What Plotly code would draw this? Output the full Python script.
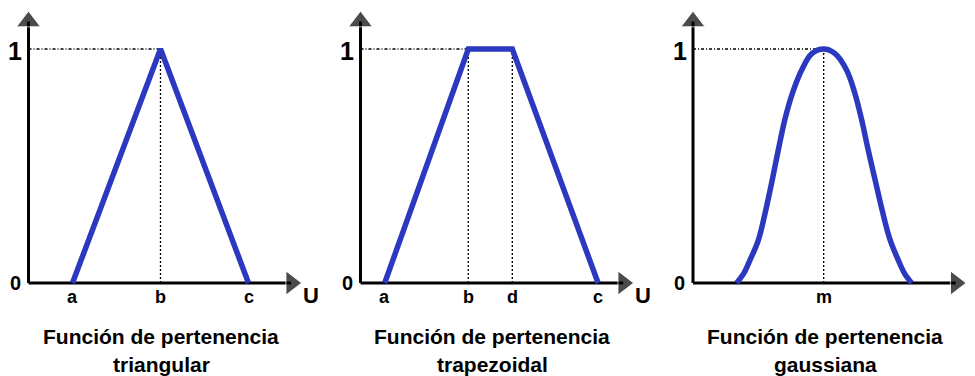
import plotly.graph_objects as go

# membership function data, x in U units (1 unit = 44 px), y in [0, 1]
TRI_X = [1.0, 3.0, 5.0]
TRI_Y = [0, 1, 0]
TRI_TICKS = ["a", "b", "c"]

TRAP_X = [0.55, 2.45, 3.45, 5.4]
TRAP_Y = [0, 1, 1, 0]
TRAP_TICKS = ["a", "b", "d", "c"]

GAUSS_X = [0.99, 1.15, 1.30, 1.48, 1.64, 1.79, 1.94, 2.09, 2.24, 2.47, 2.70, 2.97,
           3.23, 3.49, 3.68, 3.83, 3.98, 4.14, 4.30, 4.47, 4.66, 4.81, 4.97]
GAUSS_Y = [0.0, 0.04, 0.10, 0.18, 0.30, 0.43, 0.57, 0.70, 0.80, 0.91, 0.98, 1.0,
           0.98, 0.91, 0.81, 0.70, 0.57, 0.44, 0.31, 0.19, 0.10, 0.04, 0.0]
GAUSS_PEAK = 2.97
GAUSS_TICKS = ["m"]

TITLES = [("Función de pertenencia", "triangular"),
          ("Función de pertenencia", "trapezoidal"),
          ("Función de pertenencia", "gaussiana")]

BLUE = "#2a39bf"
FONT = "Liberation Sans"
VW, VH = 975, 376
OFF = 8          # default body margin of the html page
W, H = VW - OFF, VH - OFF
PX_U = 44.0      # px per x unit
PX_Y0 = 283.0 - OFF    # pixel row of y=0
PX_Y1 = 49.0 - OFF     # pixel row of y=1
X_END = 5.97     # x-axis arrow centre
Y_END = 1.117    # y-axis arrow centre

# (domain left px, domain right px, origin px, title centre px) in page pixels
panels = [(OFF, 330, 28.5, 161), (330, 660, 360.5, 492), (660, VW, 693, 825)]

fig = go.Figure()
layout = dict()
py_u = PX_Y0 - PX_Y1
y_range = [-(H - PX_Y0) / py_u, PX_Y0 / py_u]

annotations = []

def guide(k, xs, ys, dash):
    fig.add_trace(go.Scatter(x=xs, y=ys, mode="lines", xaxis="x%d" % k, yaxis="y%d" % k,
                             line=dict(color="black", width=1.3, dash=dash), hoverinfo="skip"))

def label(k, x, y, text, size):
    annotations.append(dict(x=x, y=y, xref="x%d" % k, yref="y%d" % k, text=text, showarrow=False,
                            xanchor="center", yanchor="middle",
                            font=dict(family=FONT, size=size, color="black", weight="bold")))

for i, (d0, d1, orig, tcx) in enumerate(panels):
    k = i + 1
    sfx = "" if k == 1 else str(k)
    d0, d1, orig, tcx = d0 - OFF, d1 - OFF, orig - OFF, tcx - OFF
    layout["xaxis" + sfx] = dict(domain=[d0 / W, d1 / W], range=[-(orig - d0) / PX_U, (d1 - orig) / PX_U],
                                 visible=False, fixedrange=True, anchor="y" + sfx)
    layout["yaxis" + sfx] = dict(domain=[0, 1], range=y_range, visible=False, anchor="x" + sfx, fixedrange=True)

    if k == 1:
        xs, ys, ticks = TRI_X, TRI_Y, TRI_TICKS
        peaks = [TRI_X[1]]
    elif k == 2:
        xs, ys, ticks = TRAP_X, TRAP_Y, TRAP_TICKS
        peaks = [TRAP_X[1], TRAP_X[2]]
    else:
        xs, ys, ticks = GAUSS_X, GAUSS_Y, GAUSS_TICKS
        peaks = [GAUSS_PEAK]

    # dotted guide lines
    guide(k, [0, peaks[0]], [1, 1], "3px,2px,1px,2px")
    for p in peaks:
        guide(k, [p, p], [1, 0], "2px,2px")

    # axes with arrow heads
    fig.add_trace(go.Scatter(x=[0, 0], y=[0, Y_END], mode="lines+markers", xaxis="x%d" % k, yaxis="y%d" % k,
                             line=dict(color="black", width=3),
                             marker=dict(symbol="triangle-up", size=[0, 21], color="black"), hoverinfo="skip"))
    fig.add_trace(go.Scatter(x=[0, X_END], y=[0, 0], mode="lines+markers", xaxis="x%d" % k, yaxis="y%d" % k,
                             line=dict(color="black", width=3),
                             marker=dict(symbol="triangle-right", size=[0, 21], color="black"), hoverinfo="skip"))

    # membership curve
    fig.add_trace(go.Scatter(x=xs, y=ys, mode="lines", xaxis="x%d" % k, yaxis="y%d" % k,
                             line=dict(color=BLUE, width=5.5, shape="spline" if k == 3 else "linear"),
                             hoverinfo="skip"))

    # labels
    label(k, -0.3, 0, "0", 20)
    label(k, -0.3, 0.99, "1", 25)
    tick_x = xs if k != 3 else [GAUSS_PEAK]
    for tx, tt in zip(tick_x, ticks):
        label(k, tx, -0.06, tt, 18)
    label(k, 6.42, -0.055, "U", 22)

    for line, ypx in zip(TITLES[i], (336 - OFF, 364 - OFF)):
        annotations.append(dict(x=tcx / W, y=1 - ypx / H, xref="paper", yref="paper", text=line,
                                showarrow=False, xanchor="center", yanchor="middle",
                                font=dict(family=FONT, size=21, color="black", weight="bold")))

fig.update_layout(**layout)
fig.update_layout(width=W, height=H, margin=dict(l=0, r=0, t=0, b=0), showlegend=False,
                  paper_bgcolor="white", plot_bgcolor="white", annotations=annotations)

fig.write_html("out.html")
